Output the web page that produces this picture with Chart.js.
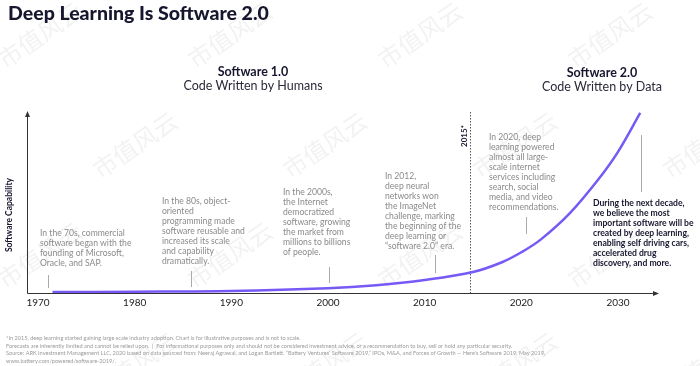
<!DOCTYPE html>
<html>
<head>
<meta charset="utf-8">
<script src="https://cdn.jsdelivr.net/npm/chart.js@4.4.1/dist/chart.umd.min.js"></script>
<style>
  body { margin: 0; background: #fff; }
  #wrap { width: 700px; height: 366px; }
</style>
</head>
<body>
<div id="wrap"><canvas id="chart" width="700" height="366"></canvas></div>
<script>
// curve: software capability over time (illustrative, not to scale)
const years = [1971.5, 1980, 1990, 2000, 2005, 2010, 2015, 2018, 2020, 2022, 2025, 2028, 2030, 2032.3];
const capability = [0.5, 0.7, 1.1, 2.6, 4.3, 7.2, 11.6, 17, 22.5, 29.5, 44, 63, 78, 99.5];

const tickYears = [1970, 1980, 1990, 2000, 2010, 2020, 2030];
const markerYear = 2014.7;

// annotation blocks: text lines, anchor year for the small tick
const notes = [
    { year: 1971, lines: ["In the 70s, commercial", "software began with the", "founding of Microsoft,", "Oracle, and SAP."] },
    { year: 1985.8, lines: ["In the 80s, object-", "oriented", "programming made", "software reusable and", "increased its scale", "and capability", "dramatically."] },
    { year: 2000.1, lines: ["In the 2000s,", "the Internet", "democratized", "software, growing", "the market from", "millions to billions", "of people."] },
    { year: 2011.1, lines: ["In 2012,", "deep neural", "networks won", "the ImageNet", "challenge, marking", "the beginning of the", "deep learning or", "\u201csoftware 2.0\u201d era."] },
    { year: 2020.5, lines: ["In 2020, deep", "learning powered", "almost all large-", "scale internet", "services including", "search, social", "media, and video", "recommendations."] }
];
const outlook = ["During the next decade,", "we believe the most", "important software will be", "created by deep learning,", "enabling self driving cars,", "accelerated drug", "discovery, and more."];

const footnotes = [
    "*In 2015, deep learning started gaining large scale industry adoption. Chart is for illustrative purposes and is not to scale.",
    "Forecasts are inherently limited and cannot be relied upon.  |  For informational purposes only and should not be considered investment advice, or a recommendation to buy, sell or hold any particular security.",
    "Source: ARK Investment Management LLC, 2020 based on data sourced from: Neeraj Agrawal, and Logan Bartlett. \u201cBattery Ventures' Software 2019,\u201d IPOs, M&A, and Forces of Growth \u2014 Here's Software 2019, May 2019,",
    "www.battery.com/powered/software-2019/."
];

const FONT = "Lato, 'Open Sans', sans-serif";
const NAVY = "#16162e";

function drawLines(ctx, lines, x, y, lh) {
    lines.forEach((t, i) => ctx.fillText(t, x, y + i * lh));
}

const decor = {
    id: "decor",
    beforeDraw(chart) {
        const { ctx } = chart;
        ctx.save();
        ctx.fillStyle = "#fff";
        ctx.fillRect(0, 0, chart.width, chart.height);
        // faint watermark
        ctx.fillStyle = "rgba(150,150,160,0.12)";
        ctx.font = "24px 'Noto Sans CJK SC'";
        ctx.textAlign = "center";
        ctx.textBaseline = "middle";
        for (let row = 0; row < 4; row++) {
            for (let col = 0; col < 5; col++) {
                const cx = col * 190 + (row % 2 ? 95 : 0) + 40;
                const cy = row * 110 + 35;
                ctx.save();
                ctx.translate(cx, cy);
                ctx.rotate(-0.6);
                ctx.fillText("市值风云", 0, 0);
                ctx.restore();
            }
        }
        ctx.restore();
    },
    beforeDatasetsDraw(chart) {
        const { ctx, chartArea: a, scales: { x } } = chart;
        ctx.save();
        ctx.strokeStyle = "#333";
        ctx.fillStyle = "#333";
        ctx.lineWidth = 1;
        // axes
        ctx.beginPath();
        ctx.moveTo(a.left + 0.5, a.top + 2);
        ctx.lineTo(a.left + 0.5, a.bottom + 0.5);
        ctx.lineTo(a.right - 3, a.bottom + 0.5);
        ctx.stroke();
        ctx.beginPath();
        ctx.moveTo(a.left + 0.5, a.top - 1);
        ctx.lineTo(a.left - 2, a.top + 5);
        ctx.lineTo(a.left + 3, a.top + 5);
        ctx.closePath();
        ctx.fill();
        ctx.beginPath();
        ctx.moveTo(a.right + 1, a.bottom + 0.5);
        ctx.lineTo(a.right - 5, a.bottom - 2);
        ctx.lineTo(a.right - 5, a.bottom + 3);
        ctx.closePath();
        ctx.fill();
        // 2015 dotted divider
        const mx = Math.round(x.getPixelForValue(markerYear)) + 0.5;
        ctx.strokeStyle = "#555";
        ctx.setLineDash([1.5, 1.5]);
        ctx.beginPath();
        ctx.moveTo(mx, a.top);
        ctx.lineTo(mx, a.bottom);
        ctx.stroke();
        ctx.setLineDash([]);
        ctx.restore();
    },
    afterDraw(chart) {
        const { ctx, chartArea: a, scales: { x } } = chart;
        ctx.save();
        ctx.textBaseline = "middle";

        // title
        ctx.fillStyle = NAVY;
        ctx.font = `900 19.5px ${FONT}`;
        ctx.textAlign = "left";
        ctx.fillText("Deep Learning Is Software 2.0", 8, 14);

        // era headings
        ctx.textAlign = "center";
        ctx.font = `bold 12.5px ${FONT}`;
        ctx.fillText("Software 1.0", 253, 72);
        ctx.fillText("Software 2.0", 602, 73);
        ctx.fillStyle = "#2a2a3a";
        ctx.font = `12.5px ${FONT}`;
        ctx.fillText("Code Written by Humans", 253, 86);
        ctx.fillText("Code Written by Data", 602, 87);

        // axis title
        ctx.save();
        ctx.translate(9, 215);
        ctx.rotate(-Math.PI / 2);
        ctx.fillStyle = NAVY;
        ctx.font = `bold 8.5px ${FONT}`;
        ctx.fillText("Software Capability", 0, 0);
        ctx.restore();

        // 2015* label
        const mx = x.getPixelForValue(markerYear);
        ctx.save();
        ctx.translate(mx - 6, 136);
        ctx.rotate(-Math.PI / 2);
        ctx.fillStyle = NAVY;
        ctx.font = `bold 8px ${FONT}`;
        ctx.fillText("2015*", 0, 0);
        ctx.restore();

        // tick labels
        ctx.fillStyle = "#222";
        ctx.font = `10px ${FONT}`;
        tickYears.forEach(yr => ctx.fillText(String(yr), x.getPixelForValue(yr), a.bottom + 10));

        // annotation blocks
        const blockPos = [[40, 233], [162, 201], [283, 192], [385, 176], [489, 137]];
        const markerSpan = [[275, 288], [271, 287], [267, 283], [255, 273], [217, 234]];
        ctx.textAlign = "left";
        ctx.font = `8.6px ${FONT}`;
        ctx.fillStyle = "#8a8a8a";
        notes.forEach((n, i) => drawLines(ctx, n.lines, blockPos[i][0], blockPos[i][1], 10));
        ctx.strokeStyle = "#aaa";
        ctx.lineWidth = 1;
        notes.forEach((n, i) => {
            const px = Math.round(x.getPixelForValue(n.year)) + 0.5;
            ctx.beginPath();
            ctx.moveTo(px, markerSpan[i][0]);
            ctx.lineTo(px, markerSpan[i][1]);
            ctx.stroke();
        });

        // outlook block
        ctx.beginPath();
        ctx.moveTo(641.5, 135);
        ctx.lineTo(641.5, 192);
        ctx.stroke();
        ctx.fillStyle = NAVY;
        ctx.font = `bold 8.6px ${FONT}`;
        drawLines(ctx, outlook, 593, 203, 10);

        // footnotes
        ctx.fillStyle = "#9a9a9a";
        ctx.font = `5.6px ${FONT}`;
        const fw = [350, 620, 634, 130];
        footnotes.forEach((t, i) => ctx.fillText(t, 6, 338 + i * 7.7, fw[i]));
        ctx.restore();
    }
};

new Chart(document.getElementById("chart"), {
    type: "line",
    data: {
        datasets: [{
            data: years.map((yr, i) => ({ x: yr, y: capability[i] })),
            borderColor: "#7759f6",
            borderWidth: 2.5,
            pointRadius: 0,
            tension: 0.35,
            fill: false
        }]
    },
    options: {
        responsive: false,
        animation: false,
        layout: { padding: { left: 27, right: 42, top: 112, bottom: 73 } },
        plugins: { legend: { display: false }, tooltip: { enabled: false } },
        scales: {
            x: { type: "linear", min: 1968.86, max: 2034.14, display: false },
            y: { min: 0, max: 100, display: false }
        }
    },
    plugins: [decor]
});
</script>
</body>
</html>
